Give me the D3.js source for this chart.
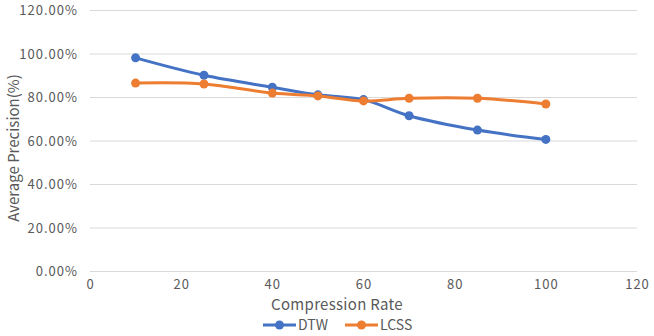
<!DOCTYPE html>
<html>
<head>
<meta charset="utf-8">
<script src="https://cdn.jsdelivr.net/npm/d3@7"></script>
<style>
  body { margin: 0; background: #fff; }
  svg text { font-family: "Noto Sans CJK SC", "DejaVu Sans", sans-serif; fill: #595959; }
</style>
</head>
<body>
<svg id="chart" width="654" height="336"></svg>
<script>
// data
var rates = [10, 25, 40, 50, 60, 70, 85, 100]
var dtw = [0.980, 0.900, 0.845, 0.810, 0.788, 0.714, 0.648, 0.605]
var lcss = [0.864, 0.860, 0.818, 0.805, 0.782, 0.794, 0.794, 0.768]
var xTicks = [0, 20, 40, 60, 80, 100, 120]
var yTicks = [0, 0.2, 0.4, 0.6, 0.8, 1.0, 1.2]
var seriesNames = ["DTW", "LCSS"]
var colors = ["#4472C4", "#ED7D31"]

const dims = {
    left: 90,
    right: 637,
    top: 10,
    bottom: 271
}

var svg = d3.select("#chart")

var xScale = d3.scaleLinear().domain([0, 120]).range([dims.left, dims.right])
var yScale = d3.scaleLinear().domain([0, 1.2]).range([dims.bottom, dims.top])

// gridlines
svg.append("g")
    .selectAll("line")
    .data(yTicks)
    .join("line")
        .attr("x1", dims.left)
        .attr("x2", dims.right)
        .attr("y1", d => yScale(d) + 0.5)
        .attr("y2", d => yScale(d) + 0.5)
        .attr("stroke", "#d9d9d9")
        .attr("stroke-width", 1)

// y axis labels
y_axis = svg.append("g")
    .attr("transform", "translate(" + (dims.left - 12) + ",0)")
    .call(d3.axisLeft(yScale).tickValues(yTicks).tickSize(0).tickPadding(0).tickFormat(d3.format(".2%")))
y_axis.select(".domain").remove()
y_axis.selectAll("text")
    .attr("font-size", 13)
    .attr("letter-spacing", "1px")
    .attr("fill", "#595959")
    .attr("dy", "0.35em")

// x axis labels
x_axis = svg.append("g")
    .attr("transform", "translate(0," + (dims.bottom + 9) + ")")
    .call(d3.axisBottom(xScale).tickValues(xTicks).tickSize(0).tickPadding(0))
x_axis.select(".domain").remove()
x_axis.selectAll("text")
    .attr("font-size", 13)
    .attr("letter-spacing", "1px")
    .attr("fill", "#595959")
    .attr("dy", "0.71em")

// axis titles
svg.append("text")
    .attr("x", 337)
    .attr("y", 310)
    .attr("text-anchor", "middle")
    .attr("font-size", 15)
    .attr("letter-spacing", "0.3px")
    .text("Compression Rate")

svg.append("text")
    .attr("transform", "translate(19,148) rotate(-90)")
    .attr("text-anchor", "middle")
    .attr("font-size", 15)
    .text("Average Precision(%)")

var line = d3.line()
    .x(d => xScale(d.x))
    .y(d => yScale(d.y))
    .curve(d3.curveCatmullRom.alpha(0.5))

var allSeries = [dtw, lcss].map((vals, i) => ({
    name: seriesNames[i],
    color: colors[i],
    points: rates.map((r, j) => ({x: r, y: vals[j]}))
}))

for (s of allSeries) {
    svg.append("path")
        .attr("d", line(s.points))
        .attr("fill", "none")
        .attr("stroke", s.color)
        .attr("stroke-width", 3)
        .attr("stroke-linejoin", "round")
    svg.append("g")
        .selectAll("circle")
        .data(s.points)
        .join("circle")
            .attr("cx", d => xScale(d.x))
            .attr("cy", d => yScale(d.y))
            .attr("r", 4.5)
            .attr("fill", s.color)
}

// legend
var legendX = [263, 345]
allSeries.forEach((s, i) => {
    var g = svg.append("g").attr("transform", "translate(" + legendX[i] + ",325)")
    g.append("line")
        .attr("x1", 0).attr("x2", 33).attr("y1", 0).attr("y2", 0)
        .attr("stroke", s.color).attr("stroke-width", 3)
    g.append("circle").attr("cx", 16.5).attr("cy", 0).attr("r", 4.5).attr("fill", s.color)
    g.append("text")
        .attr("x", 35).attr("y", 0).attr("dy", "0.35em")
        .attr("font-size", 14)
        .text(s.name)
})
</script>
</body>
</html>
